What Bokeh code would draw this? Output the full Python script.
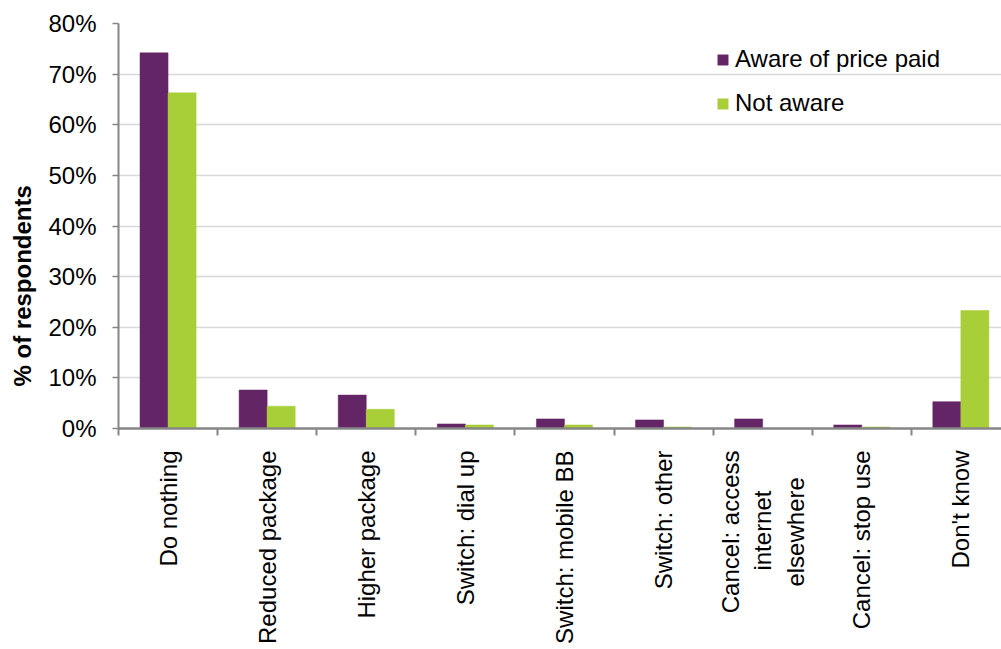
import math

from bokeh.embed import file_html
from bokeh.models import (FixedTicker, Legend, LegendItem,
                          PrintfTickFormatter, Range1d, Title)
from bokeh.plotting import figure
from bokeh.resources import INLINE

NBSP = "\u00a0"

# Survey responses: what respondents would do after a broadband price rise
categories = [
    "Do nothing",
    "Reduced package",
    "Higher package",
    "Switch: dial up",
    "Switch: mobile BB",
    "Switch: other",
    "Cancel: access\ninternet" + NBSP * 6 + "\nelsewhere" + NBSP * 4,
    "Cancel: stop use",
    "Don't know",
]
aware_of_price = [74.2, 7.6, 6.6, 0.9, 1.9, 1.7, 1.9, 0.7, 5.3]
not_aware = [66.3, 4.4, 3.8, 0.7, 0.7, 0.3, 0.0, 0.3, 23.3]
y_ticks = [0, 10, 20, 30, 40, 50, 60, 70, 80]

FONT = "Liberation Sans"
PURPLE = "#642566"
GREEN = "#A8CE38"
AXIS_GREY = "#868686"

bar_w = 0.283
centers = [i + 0.5 for i in range(len(categories))]
x_aware = [c - bar_w / 2 for c in centers]
x_not = [c + bar_w / 2 for c in centers]

p = figure(
    frame_width=883, frame_height=405,
    x_range=Range1d(0, 8.91), y_range=Range1d(0, 80),
    output_backend="svg", toolbar_location=None,
    min_border_left=118, min_border_right=0, min_border_top=23,
    min_border_bottom=0,
)
p.outline_line_color = None
p.background_fill_color = "white"
p.border_fill_color = "white"

r1 = p.vbar(x=x_aware, top=aware_of_price, width=bar_w,
            fill_color=PURPLE, line_color=PURPLE, line_width=0.5)
r2 = p.vbar(x=x_not, top=not_aware, width=bar_w,
            fill_color=GREEN, line_color=GREEN, line_width=0.5)

# category axis: labels at centres, tick marks at category boundaries
xa = p.xaxis[0]
xa.ticker = FixedTicker(ticks=centers,
                        minor_ticks=list(range(len(categories) + 1)))
xa.major_label_overrides = {c: lab for c, lab in zip(centers, categories)}
xa.major_label_orientation = math.pi / 2
xa.major_label_text_font = FONT
xa.major_label_text_font_size = "24px"
xa.major_label_text_color = "black"
xa.major_label_standoff = 15
xa.major_tick_out = 0
xa.major_tick_in = 0
xa.minor_tick_out = 7
xa.minor_tick_in = 0
xa.minor_tick_line_color = AXIS_GREY
xa.minor_tick_line_width = 2
xa.axis_line_color = AXIS_GREY
xa.axis_line_width = 2.5

ya = p.yaxis[0]
ya.ticker = FixedTicker(ticks=y_ticks)
ya.formatter = PrintfTickFormatter(format="%d%%")
ya.major_label_text_font = FONT
ya.major_label_text_font_size = "24px"
ya.major_label_text_color = "black"
ya.major_label_standoff = 16
ya.major_tick_out = 6
ya.major_tick_in = 0
ya.major_tick_line_color = AXIS_GREY
ya.major_tick_line_width = 1.5
ya.minor_tick_line_color = None
ya.axis_line_color = AXIS_GREY
ya.axis_line_width = 2

p.xgrid.grid_line_color = None
p.ygrid.grid_line_color = "#D9D9D9"
p.ygrid.grid_line_width = 1.5

# value-axis title in the left margin, starting a little above the baseline
p.add_layout(Title(
    text="% of respondents", align="left", offset=42,
    vertical_align="top", standoff=16,
    text_font=FONT, text_font_size="24px", text_font_style="bold",
    text_color="black",
), "left")

legend = Legend(
    items=[LegendItem(label="Aware of price paid", renderers=[r1]),
           LegendItem(label="Not aware", renderers=[r2])],
    location=(598, 311),
    glyph_width=13, glyph_height=13,
    label_text_font=FONT, label_text_font_size="24px",
    label_text_color="black", label_standoff=6,
    spacing=16, padding=0, margin=0,
    border_line_color=None, background_fill_alpha=0,
)
p.add_layout(legend)

open("out.html", "w").write(file_html(p, INLINE))
